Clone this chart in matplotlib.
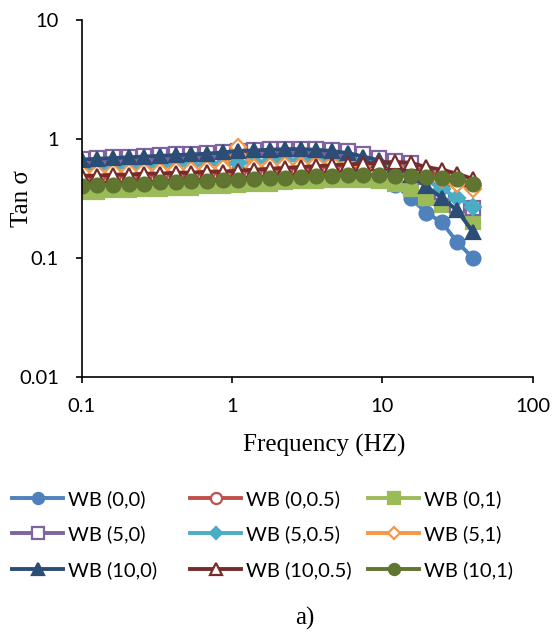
import matplotlib.pyplot as plt

freq = [0.1, 0.127, 0.162, 0.205, 0.261, 0.332, 0.421, 0.535, 0.681, 0.865,
        1.10, 1.40, 1.78, 2.26, 2.87, 3.64, 4.63, 5.89, 7.48, 9.51,
        12.1, 15.4, 19.5, 24.8, 31.5, 40.0]

labels = ["WB (0,0)", "WB (0,0.5)", "WB (0,1)",
          "WB (5,0)", "WB (5,0.5)", "WB (5,1)",
          "WB (10,0)", "WB (10,0.5)", "WB (10,1)"]

wb_0_0 = [0.40, 0.41, 0.41, 0.42, 0.42, 0.43, 0.43, 0.44, 0.44, 0.45, 0.45, 0.46, 0.47,
          0.47, 0.48, 0.48, 0.48, 0.48, 0.47, 0.45, 0.41, 0.32, 0.24, 0.20, 0.135, 0.10]
wb_0_05 = [0.47, 0.48, 0.48, 0.49, 0.49, 0.50, 0.50, 0.51, 0.51, 0.52, 0.53, 0.54, 0.55,
           0.56, 0.57, 0.58, 0.59, 0.60, 0.60, 0.60, 0.59, 0.57, 0.53, 0.50, 0.46, 0.42]
wb_0_1 = [0.36, 0.36, 0.37, 0.37, 0.38, 0.38, 0.39, 0.39, 0.40, 0.40, 0.41, 0.42, 0.42,
          0.43, 0.44, 0.44, 0.45, 0.45, 0.45, 0.44, 0.42, 0.38, 0.32, 0.28, 0.25, 0.20]
wb_5_0 = [0.68, 0.69, 0.70, 0.71, 0.72, 0.73, 0.74, 0.75, 0.76, 0.77, 0.79, 0.80, 0.82,
          0.83, 0.83, 0.82, 0.81, 0.79, 0.75, 0.69, 0.65, 0.63, 0.48, 0.36, 0.28, 0.26]
wb_5_05 = [0.56, 0.57, 0.57, 0.58, 0.58, 0.59, 0.60, 0.60, 0.61, 0.62, 0.63, 0.64, 0.65,
           0.66, 0.66, 0.66, 0.66, 0.65, 0.64, 0.62, 0.58, 0.52, 0.45, 0.38, 0.32, 0.27]
wb_5_1 = [0.52, 0.52, 0.53, 0.53, 0.54, 0.54, 0.55, 0.55, 0.56, 0.57, 0.85, 0.58, 0.59,
          0.60, 0.60, 0.61, 0.61, 0.61, 0.60, 0.59, 0.57, 0.54, 0.50, 0.46, 0.42, 0.38]
wb_10_0 = [0.67, 0.68, 0.69, 0.70, 0.71, 0.72, 0.73, 0.74, 0.75, 0.77, 0.79, 0.80, 0.81,
           0.82, 0.82, 0.81, 0.79, 0.76, 0.71, 0.66, 0.60, 0.50, 0.40, 0.32, 0.25, 0.165]
wb_10_05 = [0.49, 0.49, 0.50, 0.50, 0.51, 0.51, 0.52, 0.52, 0.53, 0.53, 0.54, 0.55, 0.56,
            0.57, 0.58, 0.59, 0.60, 0.61, 0.62, 0.63, 0.64, 0.63, 0.58, 0.55, 0.51, 0.46]
wb_10_1 = [0.40, 0.41, 0.41, 0.42, 0.42, 0.43, 0.43, 0.44, 0.44, 0.45, 0.45, 0.46, 0.47,
           0.47, 0.48, 0.49, 0.49, 0.50, 0.50, 0.50, 0.49, 0.49, 0.48, 0.47, 0.46, 0.42]

series = [wb_0_0, wb_0_05, wb_0_1, wb_5_0, wb_5_05, wb_5_1, wb_10_0, wb_10_05, wb_10_1]

colors = ["#4F81BD", "#C0504D", "#9BBB59", "#8064A2", "#4BACC6", "#F79646",
          "#2C4D75", "#772C2A", "#5F7530"]
markers = ["o", "o", "s", "s", "D", "D", "^", "^", "o"]
filled = [True, False, True, False, True, False, True, False, True]
msizes = [10, 10, 10, 10, 8, 8, 10, 10, 10]

W, H = 553, 632
fig = plt.figure(figsize=(W / 100, H / 100), dpi=100)
ax = fig.add_axes([81.7 / W, 1 - 376.7 / H, (532.7 - 81.7) / W, (376.7 - 20) / H])

handles = []
for vals, lab, c, m, f, ms in zip(series, labels, colors, markers, filled, msizes):
    h, = ax.plot(freq, vals, color=c, lw=2.8, marker=m, markersize=ms,
                 markerfacecolor=c if f else "white", markeredgecolor=c,
                 markeredgewidth=1.6, label=lab)
    handles.append(h)

ax.set_xscale("log")
ax.set_yscale("log")
ax.set_xlim(0.1, 100)
ax.set_ylim(0.01, 10)
ax.set_xticks([0.1, 1, 10, 100])
ax.set_xticklabels(["0.1", "1", "10", "100"])
ax.set_yticks([0.01, 0.1, 1, 10])
ax.set_yticklabels(["0.01", "0.1", "1", "10"])
ax.minorticks_off()
for sp in ["top", "right"]:
    ax.spines[sp].set_visible(False)
for sp in ["left", "bottom"]:
    ax.spines[sp].set_linewidth(1.2)
ax.tick_params(direction="out", length=4.5, width=1.2, labelsize=14.5)
ax.tick_params(axis="x", pad=11)
ax.tick_params(axis="y", pad=12)
for t in ax.get_xticklabels() + ax.get_yticklabels():
    t.set_family("Lato")

fig.text(324 / W, 1 - 445 / H, "Frequency (HZ)", family="Liberation Serif", fontsize=18,
         ha="center", va="center")
fig.text(22 / W, 1 - 199 / H, "Tan σ", family="Liberation Serif", fontsize=18,
         ha="center", va="center", rotation=90)

# three legend columns at fixed positions, like the Excel legend
col_x = [12, 190, 368]
for col in range(3):
    idx = [col, col + 3, col + 6]
    fig.legend([handles[i] for i in idx], [labels[i] for i in idx],
               loc="upper left", bbox_to_anchor=(col_x[col] / W, 1 - 490 / H),
               frameon=False, borderpad=0, borderaxespad=0, markerscale=0.8,
               handlelength=2.55, handletextpad=0.25, labelspacing=0.87,
               prop={"family": "Lato", "size": 14.5})

fig.text(305 / W, 1 - 618 / H, "a)", family="Liberation Serif", fontsize=18,
         ha="center", va="center")

fig.savefig("out.png", dpi=100)
